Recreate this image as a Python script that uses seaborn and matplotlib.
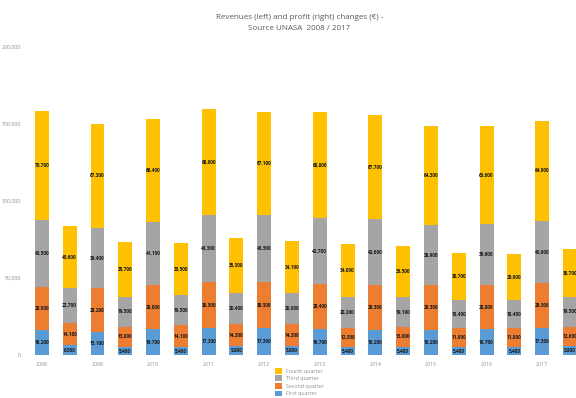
import pandas as pd
import matplotlib.pyplot as plt
import seaborn as sns
from matplotlib.patches import Patch

# data: for each year a revenue bar (left) and a profit bar (right)
years = ['2008', '2009', '2010', '2011', '2012', '2013', '2014', '2015', '2016', '2017']
bars = [f'{y} {k}' for y in years for k in ('rev', 'profit')]

first_q = [16200, 6500, 15100, 5400, 16700, 5400, 17300, 5800, 17300, 5800,
           16700, 5400, 16200, 5400, 16200, 5400, 16700, 5400, 17300, 5800]
second_q = [28000, 14100, 28200, 13000, 28800, 14100, 30300, 14300, 30300, 14300,
            29400, 12300, 29300, 13000, 29300, 11900, 28800, 11900, 29300, 12600]
third_q = [43500, 22700, 39400, 19500, 41100, 19500, 43300, 20400, 43300, 20000,
           42700, 20200, 42600, 19100, 38900, 18400, 39600, 18400, 40600, 19500]
fourth_q = [70700, 40600, 67300, 35700, 66400, 33500, 68600, 35300, 67100, 34100,
            68800, 34000, 67700, 33500, 64300, 30700, 63600, 29900, 64900, 30700]

quarters = ['First quarter', 'Second quarter', 'Third quarter', 'Fourth quarter']
colors = ['#5B9BD5', '#ED7D31', '#A5A5A5', '#FFC000']

df = pd.DataFrame({'bar': bars, 'First quarter': first_q, 'Second quarter': second_q,
                   'Third quarter': third_q, 'Fourth quarter': fourth_q})

sns.set_theme(style="white")
plt.rcParams['font.family'] = ['Open Sans', 'DejaVu Sans']

fig = plt.figure(figsize=(5.76, 3.98), dpi=100)
ax = fig.add_axes([0.0486, 0.108, 0.965, 0.774])

# stacked bars: draw cumulative totals, tallest first
cum = df[quarters].cumsum(axis=1)
for q, c in reversed(list(zip(quarters, colors))):
    sns.barplot(x=df['bar'], y=cum[q], order=bars, color=c, width=0.5,
                saturation=1, linewidth=0, edgecolor='none', ax=ax, zorder=2)

# segment value labels
for i in range(len(bars)):
    base = 0
    for q in quarters:
        v = df[q].iloc[i]
        ax.text(i, base + v / 2, f'{v:,}', ha='center', va='center',
                fontsize=3.4, color='#1a1a1a', fontweight='bold', zorder=3)
        base += v

ax.set_ylim(0, 200000)
ax.set_xlim(-0.5, len(bars) - 0.5)
ax.set_yticks([0, 50000, 100000, 150000, 200000])
ax.set_yticklabels(['0', '50,000', '100,000', '150,000', '200,000'])
ax.set_xticks(range(0, len(bars), 2))
ax.set_xticklabels(years)
ax.tick_params(axis='both', labelsize=3.8, colors='#8c8c8c', length=0, pad=5)
ax.set_xlabel('')
ax.set_ylabel('')
sns.despine(ax=ax, left=True, bottom=True)

fig.suptitle('Revenues (left) and profit (right) changes (€) -\nSource UNASA  2008 / 2017',
             x=0.52, y=0.965, fontsize=5.8, color='#595959', linespacing=1.9)

handles = [Patch(facecolor=c, edgecolor='none', label=q) for q, c in zip(quarters, colors)][::-1]
fig.legend(handles=handles, loc='upper center', bbox_to_anchor=(0.52, 0.085),
           frameon=False, fontsize=3.8, handlelength=1.3, handleheight=1.3,
           handletextpad=0.8, labelspacing=0.35, labelcolor='#8c8c8c', borderpad=0.2)

fig.savefig('out.png', dpi=100)
